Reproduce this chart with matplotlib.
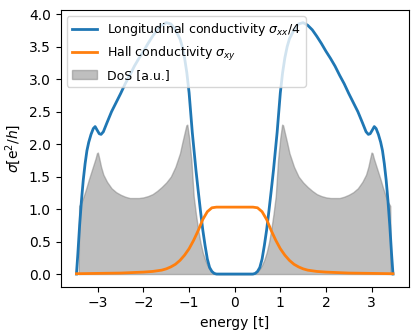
import matplotlib.pyplot as plt

# sigma_xx / 4 (blue)
e_xx = [-3.47, -3.44, -3.40, -3.36, -3.32, -3.28, -3.24, -3.20, -3.15, -3.10,
        -3.06, -3.02, -2.97, -2.93, -2.88, -2.80, -2.70, -2.60, -2.50, -2.40,
        -2.30, -2.20, -2.10, -2.00, -1.90, -1.80, -1.70, -1.60, -1.50, -1.40,
        -1.30, -1.20, -1.15, -1.10, -1.05, -1.00, -0.93, -0.85, -0.80, -0.75,
        -0.70, -0.65, -0.60, -0.55, -0.50, -0.45, -0.40, 0.00,
        0.40, 0.45, 0.50, 0.55, 0.60, 0.65, 0.70, 0.75, 0.80, 0.85,
        0.93, 1.00, 1.05, 1.10, 1.15, 1.20, 1.30, 1.40, 1.50, 1.60,
        1.70, 1.80, 1.90, 2.00, 2.10, 2.20, 2.30, 2.40, 2.50, 2.60,
        2.70, 2.80, 2.88, 2.93, 2.97, 3.02, 3.06, 3.10, 3.15, 3.20,
        3.24, 3.28, 3.32, 3.36, 3.40, 3.44, 3.47]
sigma_xx = [0.00, 0.30, 0.75, 1.13, 1.45, 1.70, 1.90, 2.03, 2.15, 2.24,
            2.27, 2.22, 2.16, 2.15, 2.19, 2.33, 2.50, 2.64, 2.78, 2.93,
            3.06, 3.20, 3.32, 3.43, 3.55, 3.66, 3.76, 3.83, 3.87, 3.85,
            3.76, 3.62, 3.50, 3.33, 3.10, 2.79, 2.18, 1.60, 1.28, 0.97,
            0.68, 0.44, 0.23, 0.10, 0.04, 0.01, 0.00, 0.00,
            0.00, 0.01, 0.04, 0.10, 0.23, 0.44, 0.68, 0.97, 1.28, 1.60,
            2.18, 2.79, 3.10, 3.33, 3.50, 3.62, 3.76, 3.85, 3.87, 3.83,
            3.76, 3.66, 3.55, 3.43, 3.32, 3.20, 3.06, 2.93, 2.78, 2.64,
            2.50, 2.33, 2.19, 2.15, 2.16, 2.22, 2.27, 2.24, 2.15, 2.03,
            1.90, 1.70, 1.45, 1.13, 0.75, 0.30, 0.00]

# Hall conductivity (orange)
e_xy = [-3.47, -3.00, -2.50, -2.00, -1.80, -1.60, -1.50, -1.40, -1.30, -1.20,
        -1.10, -1.00, -0.90, -0.80, -0.70, -0.60, -0.50, -0.40, -0.20, 0.00,
        0.20, 0.40, 0.50, 0.60, 0.70, 0.80, 0.90, 1.00, 1.10, 1.20,
        1.30, 1.40, 1.50, 1.60, 1.80, 2.00, 2.50, 3.00, 3.47]
sigma_xy = [0.005, 0.01, 0.015, 0.03, 0.04, 0.06, 0.08, 0.11, 0.15, 0.21,
            0.29, 0.39, 0.52, 0.67, 0.84, 0.96, 1.02, 1.03, 1.03, 1.03,
            1.03, 1.03, 1.02, 0.96, 0.84, 0.67, 0.52, 0.39, 0.29, 0.21,
            0.15, 0.11, 0.08, 0.06, 0.04, 0.03, 0.015, 0.01, 0.005]

# density of states (grey fill)
e_dos = [-3.42, -3.41, -3.35, -3.30, -3.25, -3.20, -3.15, -3.10, -3.05, -3.02,
         -3.00, -2.97, -2.93, -2.88, -2.80, -2.70, -2.60, -2.50, -2.40, -2.30,
         -2.20, -2.10, -2.00, -1.90, -1.80, -1.70, -1.60, -1.50, -1.40, -1.30,
         -1.20, -1.15, -1.10, -1.06, -1.04, -1.00, -0.95, -0.90, -0.85, -0.80,
         -0.75, -0.70, -0.65, -0.60, -0.55, -0.50, -0.45, -0.40, -0.35, 0.00,
         0.35, 0.40, 0.45, 0.50, 0.55, 0.60, 0.65, 0.70, 0.75, 0.80,
         0.85, 0.90, 0.95, 1.00, 1.04, 1.06, 1.10, 1.15, 1.20, 1.30,
         1.40, 1.50, 1.60, 1.70, 1.80, 1.90, 2.00, 2.10, 2.20, 2.30,
         2.40, 2.50, 2.60, 2.70, 2.80, 2.88, 2.93, 2.97, 3.00, 3.02,
         3.05, 3.10, 3.15, 3.20, 3.25, 3.30, 3.35, 3.41, 3.42]
dos = [0.00, 1.05, 1.12, 1.22, 1.33, 1.45, 1.56, 1.67, 1.78, 1.86,
       1.87, 1.78, 1.65, 1.53, 1.42, 1.32, 1.26, 1.22, 1.19, 1.17,
       1.17, 1.17, 1.18, 1.20, 1.23, 1.28, 1.34, 1.41, 1.50, 1.65,
       1.86, 2.02, 2.17, 2.29, 2.30, 2.10, 1.75, 1.20, 0.92, 0.68,
       0.48, 0.33, 0.22, 0.14, 0.08, 0.04, 0.015, 0.003, 0.00, 0.00,
       0.00, 0.003, 0.015, 0.04, 0.08, 0.14, 0.22, 0.33, 0.48, 0.68,
       0.92, 1.20, 1.75, 2.10, 2.30, 2.29, 2.17, 2.02, 1.86, 1.65,
       1.50, 1.41, 1.34, 1.28, 1.23, 1.20, 1.18, 1.17, 1.17, 1.17,
       1.19, 1.22, 1.26, 1.32, 1.42, 1.53, 1.65, 1.78, 1.87, 1.86,
       1.78, 1.67, 1.56, 1.45, 1.33, 1.22, 1.12, 1.05, 0.00]

fig = plt.figure(figsize=(4.18, 3.36), dpi=100)
ax = fig.add_axes([0.145, 0.147, 0.833, 0.823])

ax.plot(e_xx, sigma_xx, lw=2, label=r'Longitudinal conductivity $\sigma_{xx}/4$')
ax.plot(e_xy, sigma_xy, lw=2, label=r'Hall conductivity $\sigma_{xy}$')
ax.fill_between(e_dos, dos, color='gray', alpha=0.5, label='DoS [a.u.]')

ax.set_xlabel('energy [t]')
ax.set_ylabel(r'$\sigma [\mathrm{e}^2/h]$')
ax.legend(loc='upper left', fontsize=9)

fig.savefig('out.png', dpi=100)
